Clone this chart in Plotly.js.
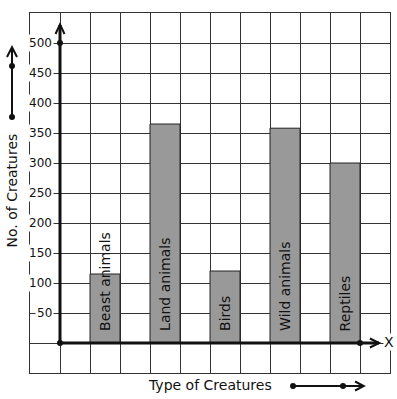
<!DOCTYPE html>
<html>
<head>
<meta charset="utf-8">
<script src="https://cdn.plot.ly/plotly-3.0.1.min.js"></script>
<style>html,body{margin:0;padding:0;background:#fff;}#chart{width:397px;height:399px;}</style>
</head>
<body>
<div id="chart"></div>
<script>
// ---- data ----
const categories = ['Beast animals', 'Land animals', 'Birds', 'Wild animals', 'Reptiles'];
const values = [115, 365, 120, 358, 300];
const yTickValues = [50, 100, 150, 200, 250, 300, 350, 400, 450, 500];
const xTitle = 'Type of Creatures';
const yTitle = 'No. of Creatures';

// ---- layout helpers ----
const FONT = 'DejaVu Sans';
const INK = '#111';
const GRID = '#333';
const xPositions = categories.map((c, i) => 1.5 + 2 * i);

const trace = {
  type: 'bar',
  x: xPositions,
  y: values,
  width: 1,
  marker: {color: '#999999', line: {color: '#222', width: 1}},
  hoverinfo: 'skip'
};

const dotShape = (xref, yref, x, y) => ({
  type: 'circle', xref: xref, yref: yref,
  xsizemode: 'pixel', ysizemode: 'pixel', xanchor: x, yanchor: y,
  x0: -3, x1: 3, y0: -3, y1: 3,
  fillcolor: INK, line: {color: INK, width: 0}
});

const shapes = [
  // y axis line + arrow
  {type: 'line', xref: 'x', yref: 'y', x0: 0, x1: 0, y0: 0, y1: 530, line: {color: INK, width: 3}},
  {type: 'path', xref: 'x', yref: 'y', path: 'M -0.15,515 L 0,531 L 0.15,515', line: {color: INK, width: 2}},
  // x axis line + arrow
  {type: 'line', xref: 'x', yref: 'y', x0: 0, x1: 10.63, y0: 0, y1: 0, line: {color: INK, width: 3}},
  {type: 'path', xref: 'x', yref: 'y', path: 'M 10.33,7.5 L 10.64,0 L 10.33,-7.5', line: {color: INK, width: 2}},
  dotShape('x', 'y', 0, 0),
  dotShape('x', 'y', 0, 500),
  dotShape('x', 'y', 10, 0),
  // y title arrow
  {type: 'line', xref: 'paper', yref: 'paper', x0: -0.05, x1: -0.05, y0: 0.711, y1: 0.903, line: {color: INK, width: 2}},
  {type: 'path', xref: 'paper', yref: 'paper', path: 'M -0.0639,0.878 L -0.05,0.905 L -0.0361,0.878', line: {color: INK, width: 2}},
  dotShape('paper', 'paper', -0.05, 0.853),
  dotShape('paper', 'paper', -0.05, 0.711),
  // x title arrow
  {type: 'line', xref: 'paper', yref: 'paper', x0: 0.7306, x1: 0.925, y0: -0.0361, y1: -0.0361, line: {color: INK, width: 2}},
  {type: 'path', xref: 'paper', yref: 'paper', path: 'M 0.903,-0.0236 L 0.927,-0.0361 L 0.903,-0.0486', line: {color: INK, width: 2}},
  dotShape('paper', 'paper', 0.7306, -0.0361),
  dotShape('paper', 'paper', 0.8694, -0.0361)
];

const annotations = [];
yTickValues.forEach(v => annotations.push({
  xref: 'x', yref: 'y', x: -0.2, y: v, xanchor: 'right', yanchor: 'middle',
  text: String(v), showarrow: false, bgcolor: '#fff', borderpad: 1,
  font: {family: FONT, size: 12, color: INK}
}));
categories.forEach((c, i) => annotations.push({
  xref: 'x', yref: 'y', x: xPositions[i], y: 16, xanchor: 'center', yanchor: 'bottom',
  text: c, textangle: -90, showarrow: false,
  font: {family: FONT, size: 14, color: INK}
}));
annotations.push({xref: 'x', yref: 'y', x: 0.03, y: 555, text: 'Y', showarrow: false, bgcolor: '#fff', borderpad: 0,
  font: {family: FONT, size: 14, color: INK}});
annotations.push({xref: 'x', yref: 'y', x: 10.95, y: 1, text: 'X', showarrow: false, bgcolor: '#fff', borderpad: 0,
  font: {family: FONT, size: 14, color: INK}});
annotations.push({xref: 'paper', yref: 'paper', x: 0.5, y: -0.0333, xanchor: 'center', yanchor: 'middle',
  text: xTitle, showarrow: false, font: {family: FONT, size: 14, color: INK}});
annotations.push({xref: 'paper', yref: 'paper', x: -0.05, y: 0.507, xanchor: 'center', yanchor: 'middle',
  text: yTitle, textangle: -90, showarrow: false, font: {family: FONT, size: 14, color: INK}});

const layout = {
  width: 397, height: 399,
  margin: {l: 30, r: 7, t: 13, b: 26, pad: 0},
  paper_bgcolor: '#fff', plot_bgcolor: '#fff',
  showlegend: false,
  font: {family: FONT, size: 12, color: INK},
  xaxis: {
    range: [-1, 11], tick0: 0, dtick: 1, showgrid: true, gridcolor: GRID, gridwidth: 1,
    zeroline: false, showticklabels: false, ticks: '', showline: true, mirror: true,
    linecolor: GRID, linewidth: 1, fixedrange: true
  },
  yaxis: {
    range: [-50, 550], tick0: 0, dtick: 50, showgrid: true, gridcolor: GRID, gridwidth: 1,
    zeroline: false, showticklabels: false, ticks: '', showline: true, mirror: true,
    linecolor: GRID, linewidth: 1, fixedrange: true
  },
  shapes: shapes,
  annotations: annotations
};

Plotly.newPlot('chart', [trace], layout, {staticPlot: true, displayModeBar: false});
</script>
</body>
</html>
